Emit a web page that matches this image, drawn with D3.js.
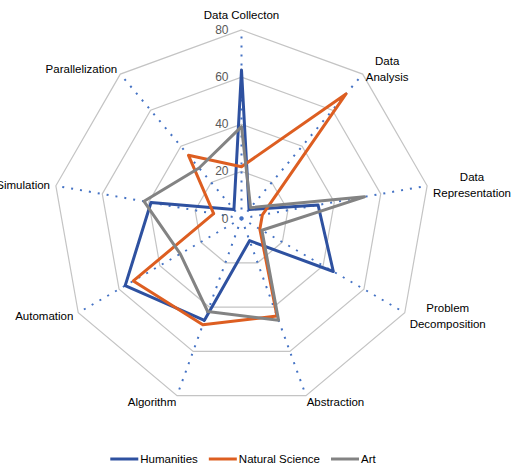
<!DOCTYPE html>
<html>
<head>
<meta charset="utf-8">
<script src="https://cdn.jsdelivr.net/npm/d3@7"></script>
<style>
body { margin: 0; background: #fff; }
text { font-family: "Liberation Sans", Arial, sans-serif; font-size: 11.5px; }
</style>
</head>
<body>
<div class="radardiv"></div>
<script>
// axis names (one entry per line of the label)
var axisNames = [
  ["Data Collecton"],
  ["Data", "Analysis"],
  ["Data", "Representation"],
  ["Problem", "Decomposition"],
  ["Abstraction"],
  ["Algorithm"],
  ["Automation"],
  ["Simulation"],
  ["Parallelization"]
];

var seriesNames = ["Humanities", "Natural Science", "Art"];

// values, in axis order
var humanities     = [63, 5, 33, 45, 10, 46, 57, 39, 5];
var naturalScience = [22, 69, 9, 9, 44, 48, 53, 12, 35];
var art            = [39, 6, 53, 10, 46, 42, 30, 42, 28];

var tickValues = [0, 20, 40, 60, 80];

var seriesColors = ["#2E51A0", "#DD5E21", "#838383"];

// size of the page and the plot
var width = 518, height = 468;
var cx = 241.5, cy = 218.5, radius = 188.5;

var svg = d3.select(".radardiv")
    .append("svg")
    .attr("width", width)
    .attr("height", height);

var g = svg.append("g")
    .attr("transform", "translate(" + cx + "," + cy + ")");

// scales
var r = d3.scaleLinear().domain([0, 80]).range([0, radius]);
var angle = d3.scaleLinear().domain([0, axisNames.length]).range([0, 2 * Math.PI]);

var radarLine = d3.lineRadial()
    .angle(function(d, i) { return angle(i); })
    .radius(function(d) { return r(d); })
    .curve(d3.curveLinearClosed);

// grid rings
g.selectAll(".ring")
    .data(tickValues.filter(function(t) { return t > 0; }))
  .enter().append("path")
    .classed("ring", true)
    .attr("d", function(t) { return radarLine(axisNames.map(function() { return t; })); })
    .attr("fill", "none")
    .attr("stroke", "#C4C4C4")
    .attr("stroke-width", 1.2);

// dotted spokes
g.selectAll(".spoke")
    .data(axisNames)
  .enter().append("line")
    .classed("spoke", true)
    .attr("x1", 0)
    .attr("y1", 0)
    .attr("x2", function(d, i) { return r(80) * Math.sin(angle(i)); })
    .attr("y2", function(d, i) { return -r(80) * Math.cos(angle(i)); })
    .attr("stroke", "#4472C4")
    .attr("stroke-width", 2)
    .attr("stroke-dasharray", "2,7");

// tick labels on the top spoke
g.selectAll(".tick-label")
    .data(tickValues)
  .enter().append("text")
    .classed("tick-label", true)
    .attr("x", -13)
    .attr("y", function(t) { return -r(t) + 4; })
    .attr("text-anchor", "end")
    .attr("fill", "#595959")
    .style("font-size", "12px")
    .text(function(t) { return t; });

// the three series
var allSeries = [humanities, naturalScience, art];
g.selectAll(".series")
    .data(allSeries)
  .enter().append("path")
    .classed("series", true)
    .attr("d", function(d) { return radarLine(d); })
    .attr("fill", "none")
    .attr("stroke", function(d, i) { return seriesColors[i]; })
    .attr("stroke-width", 3)
    .attr("stroke-linejoin", "round");

// axis labels, placed next to the outer vertex
var lineH = 16;
g.selectAll(".axis-label")
    .data(axisNames)
  .enter().append("text")
    .classed("axis-label", true)
    .attr("fill", "#000")
    .attr("text-anchor", "middle")
    .each(function(lines, i) {
      var t = d3.select(this);
      lines.forEach(function(l) {
        t.append("tspan").text(l);
      });
      var w = 0;
      t.selectAll("tspan").each(function() {
        w = Math.max(w, this.getComputedTextLength());
      });
      var a = angle(i), s = Math.sin(a), c = Math.cos(a);
      var px = r(80) * s, py = -r(80) * c;
      var bx, by;
      if (Math.abs(s) < 0.1) {
        bx = px;
        by = py - 10 - lines.length * lineH / 2 + 3;
      } else {
        var gap = 8 * Math.abs(s) - 2;
        bx = px + Math.sign(s) * (gap + w / 2);
        by = py - c * 7;
      }
      t.selectAll("tspan")
          .attr("x", bx)
          .attr("y", function(d, j) { return by + (j - (lines.length - 1) / 2) * lineH + 4; });
    });

// legend
var legend = svg.append("g").attr("transform", "translate(0,459)");
var lx = 0;
seriesNames.forEach(function(name, i) {
  var item = legend.append("g").attr("transform", "translate(" + lx + ",0)");
  item.append("line")
      .attr("x1", 0).attr("x2", 28)
      .attr("y1", 0).attr("y2", 0)
      .attr("stroke", seriesColors[i])
      .attr("stroke-width", 3);
  var txt = item.append("text")
      .attr("x", 30)
      .attr("y", 4)
      .attr("fill", "#000")
      .text(name);
  lx += 30 + txt.node().getComputedTextLength() + 11;
});
lx -= 11;
legend.attr("transform", "translate(" + (243 - lx / 2) + ",459)");
</script>
</body>
</html>
